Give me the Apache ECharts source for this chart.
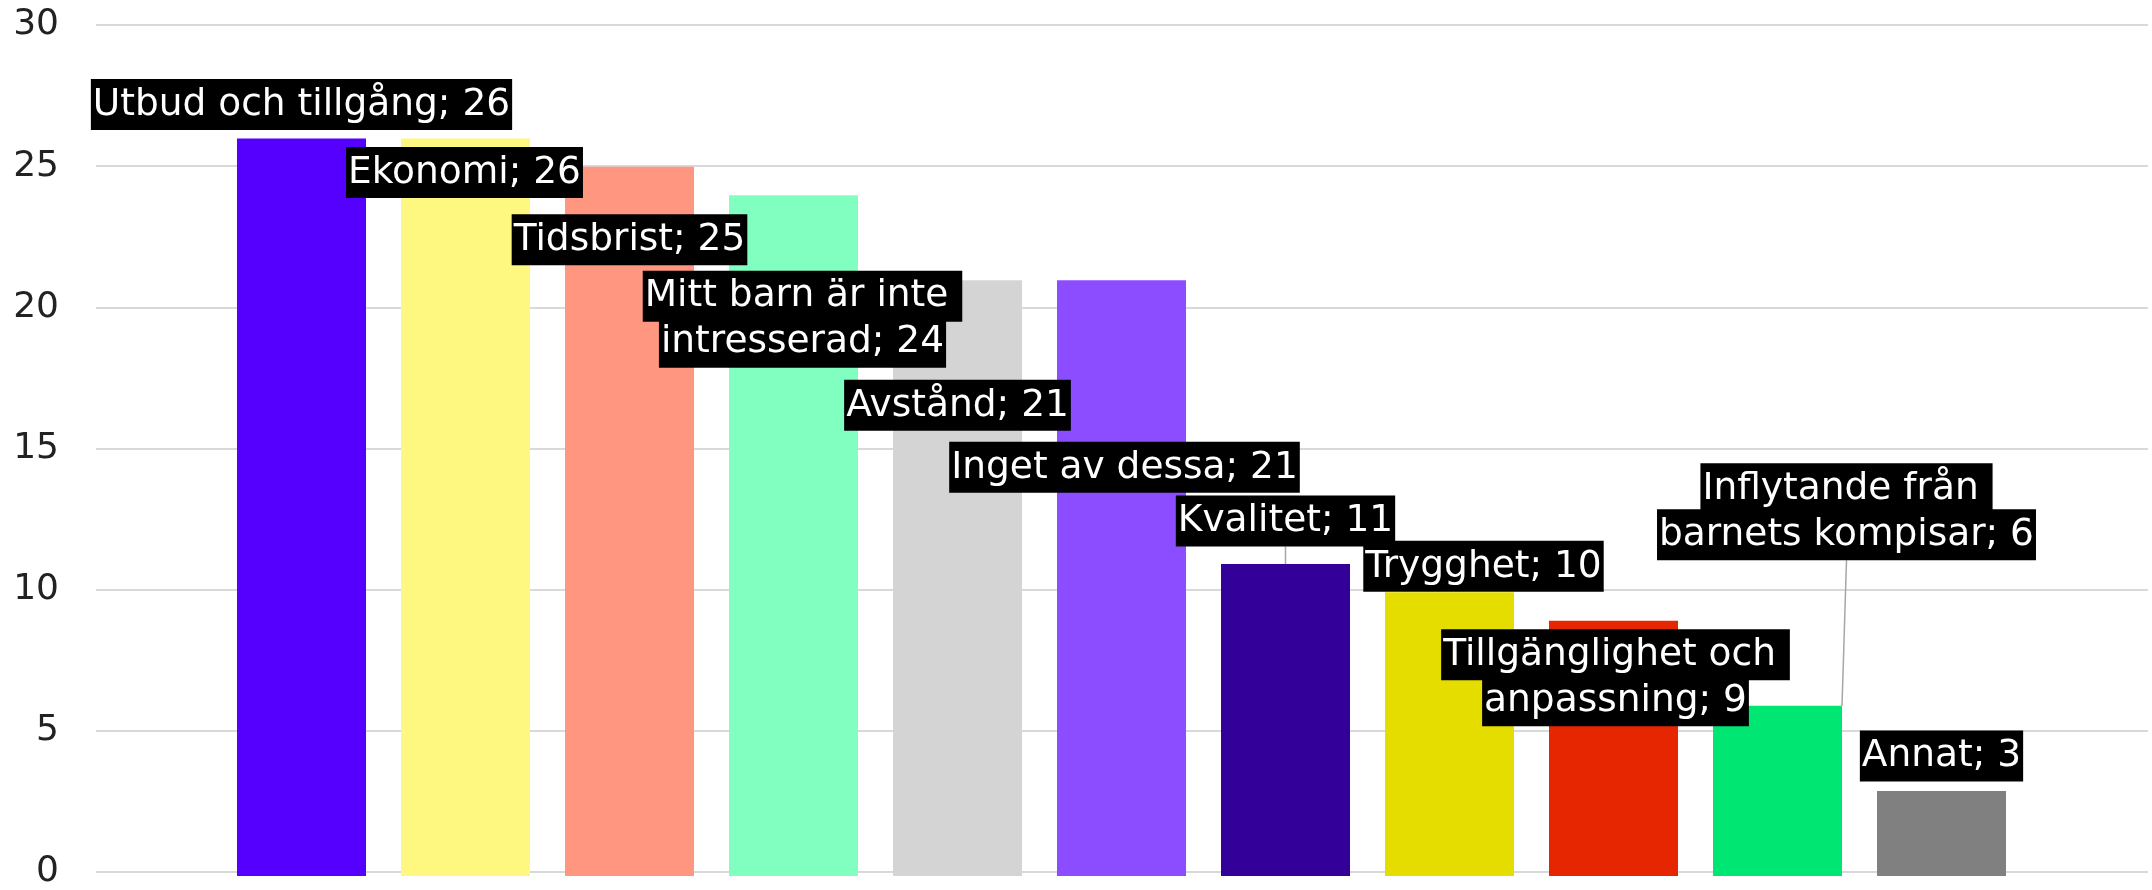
<!DOCTYPE html>
<html>
<head>
<meta charset="utf-8">
<script src="https://cdn.jsdelivr.net/npm/echarts@6/dist/echarts.min.js"></script>
<style>
html,body{margin:0;padding:0;background:#fff;}
#chart{width:2152px;height:890px;}
</style>
</head>
<body>
<div id="chart"></div>
<script>
// ---- data ----
const categories = ['Utbud och tillgång', 'Ekonomi', 'Tidsbrist', 'Mitt barn är inte intresserad', 'Avstånd', 'Inget av dessa', 'Kvalitet', 'Trygghet', 'Tillgänglighet och anpassning', 'Inflytande från barnets kompisar', 'Annat'];
const values = [26, 26, 25, 24, 21, 21, 11, 10, 9, 6, 3];
const yTicks = [0, 5, 10, 15, 20, 25, 30];

// ---- styling / layout (not data) ----
const colors = ['#5500FF', '#FFF880', '#FF9680', '#80FFC0', '#D4D4D4', '#8C4CFF', '#330099', '#E5DC00', '#E52600', '#00E673', '#808080'];
// number of words on the first line of wrapped labels (0 = no wrap)
const firstLineWords = [0, 0, 0, 4, 0, 0, 0, 0, 2, 2, 0];
// label offsets [dx, dy] relative to default 'top' position
const labelOffsets = [[0, -11], [-1, 57], [0, 96], [9, 170], [0, 148], [3, 210], [0, -20], [34, -3], [2, 103], [69, -148], [0, -12]];
const withLeader = [false, false, false, false, false, false, true, false, false, true, false];

function labelText(i) {
  const words = categories[i].split(' ');
  const n = firstLineWords[i];
  let lines;
  if (n > 0) {
    lines = [words.slice(0, n).join(' ') + ' ', words.slice(n).join(' ') + '; ' + values[i]];
  } else {
    lines = [categories[i] + '; ' + values[i]];
  }
  return lines.map(l => '{b|' + l + '}').join('\n');
}

const chart = echarts.init(document.getElementById('chart'), null, {renderer: 'canvas'});
const fontFam = '"DejaVu Sans", Verdana, sans-serif';

const option = {
  backgroundColor: '#ffffff',
  animation: false,
  grid: [
    {left: 96, right: 4, top: 25, bottom: 14},
    {left: 219.5, right: 128.5, top: 25, bottom: 14}
  ],
  xAxis: [
    {gridIndex: 0, type: 'value', min: 0, max: 1, show: false},
    {gridIndex: 1, type: 'category', data: categories, show: false, boundaryGap: true}
  ],
  yAxis: [
    {
      gridIndex: 0, type: 'value', min: yTicks[0], max: yTicks[yTicks.length - 1], interval: yTicks[1] - yTicks[0],
      axisLine: {show: false}, axisTick: {show: false},
      axisLabel: {fontSize: 36, color: '#222', fontFamily: fontFam, margin: 37},
      splitLine: {show: true, lineStyle: {color: '#d9d9d9', width: 2}}
    },
    {
      gridIndex: 1, type: 'value', min: yTicks[0], max: yTicks[yTicks.length - 1], interval: yTicks[1] - yTicks[0],
      show: false, splitLine: {show: false}
    }
  ],
  series: [{
    type: 'bar',
    xAxisIndex: 1,
    yAxisIndex: 1,
    barWidth: 129,
    data: values.map((v, i) => ({
      value: v,
      itemStyle: {color: colors[i]},
      labelLine: {show: withLeader[i], lineStyle: {color: '#a6a6a6', width: 1.5}}
    })),
    label: {
      show: true,
      position: 'top',
      distance: 0,
      formatter: p => labelText(p.dataIndex),
      rich: {
        b: {
          fontSize: 37.5, lineHeight: 46, color: '#ffffff', backgroundColor: '#000000',
          fontFamily: fontFam, padding: [7, 2, 6, 2]
        }
      }
    },
    labelLine: {show: false, lineStyle: {color: '#a6a6a6', width: 1.5}},
    labelLayout: p => ({dx: labelOffsets[p.dataIndex][0], dy: labelOffsets[p.dataIndex][1]})
  }]
};
chart.setOption(option);
</script>
</body>
</html>
